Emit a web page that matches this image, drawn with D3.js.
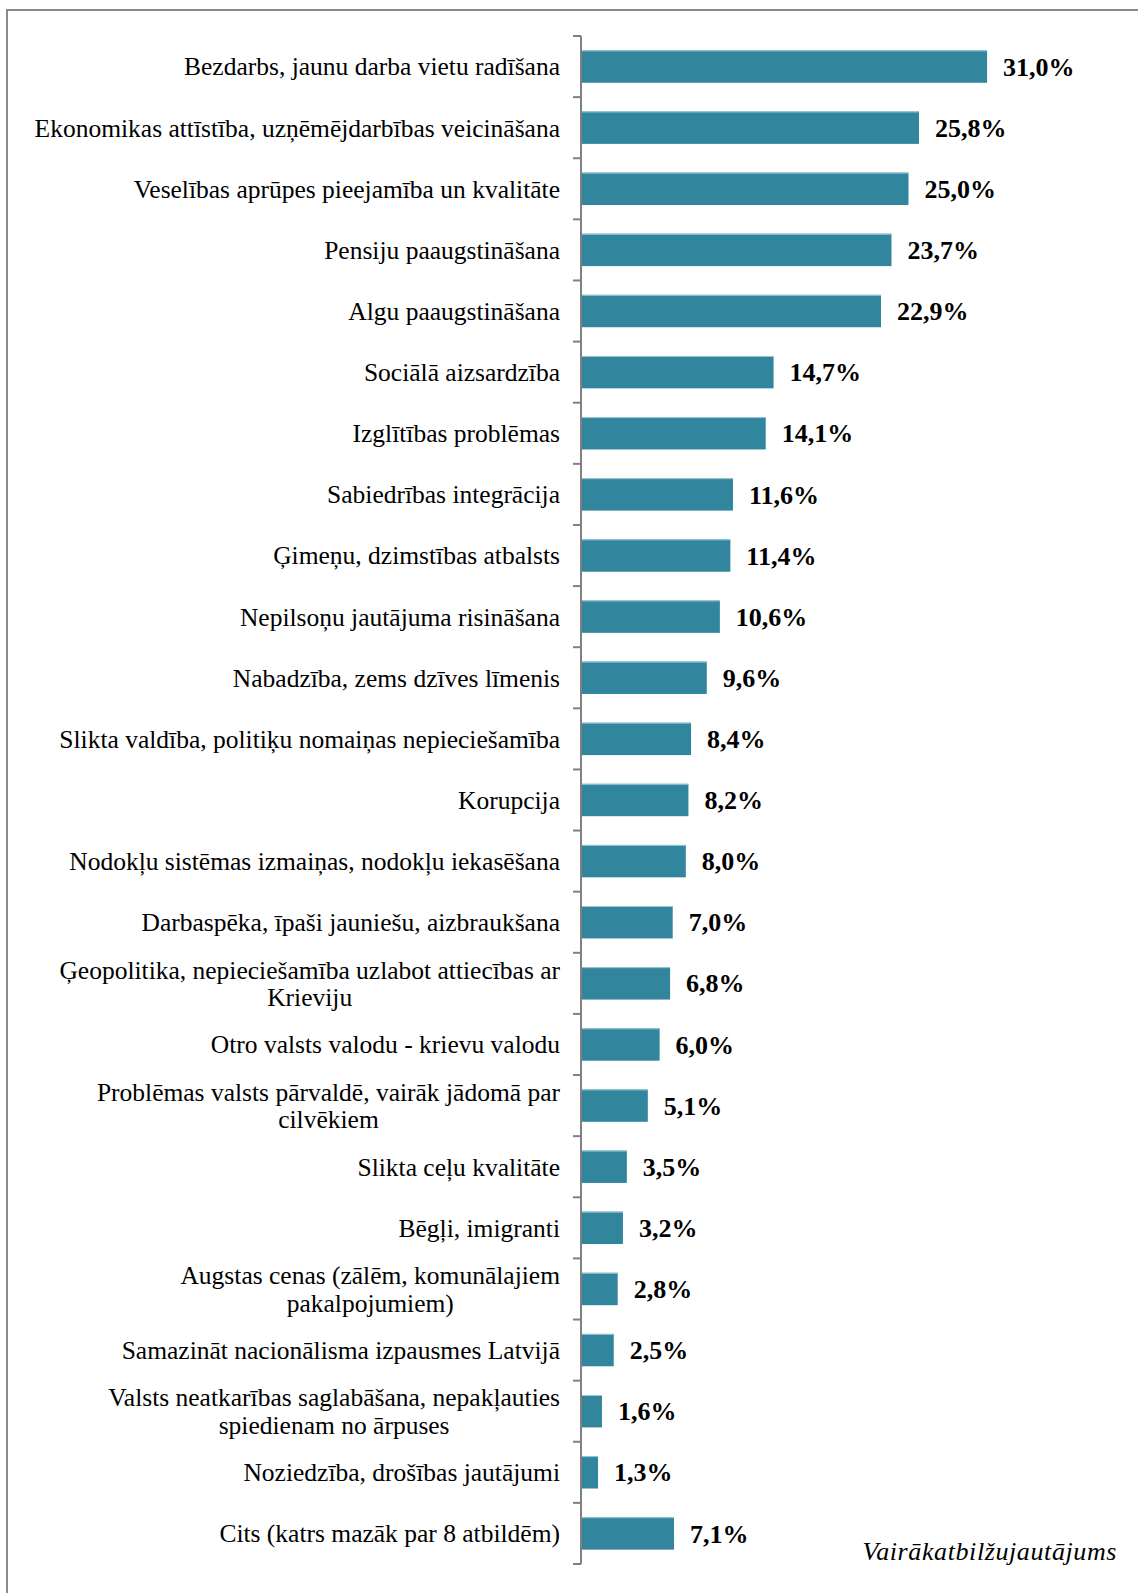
<!DOCTYPE html>
<html>
<head>
<meta charset="utf-8">
<script src="https://cdn.jsdelivr.net/npm/d3@7"></script>
<style>
  body { margin: 0; background: #fff; }
  svg { display: block; }
</style>
</head>
<body>
<script>
var svgWidth = 1138;
var svgHeight = 1593;

// categories (two-line labels split with "|")
var categories = [
  "Bezdarbs, jaunu darba vietu radīšana",
  "Ekonomikas attīstība, uzņēmējdarbības veicināšana",
  "Veselības aprūpes pieejamība un kvalitāte",
  "Pensiju paaugstināšana",
  "Algu paaugstināšana",
  "Sociālā aizsardzība",
  "Izglītības problēmas",
  "Sabiedrības integrācija",
  "Ģimeņu, dzimstības atbalsts",
  "Nepilsoņu jautājuma risināšana",
  "Nabadzība, zems dzīves līmenis",
  "Slikta valdība, politiķu nomaiņas nepieciešamība",
  "Korupcija",
  "Nodokļu sistēmas izmaiņas, nodokļu iekasēšana",
  "Darbaspēka, īpaši jauniešu, aizbraukšana",
  "Ģeopolitika, nepieciešamība uzlabot attiecības ar|Krieviju",
  "Otro valsts valodu - krievu valodu",
  "Problēmas valsts pārvaldē, vairāk jādomā par|cilvēkiem",
  "Slikta ceļu kvalitāte",
  "Bēgļi, imigranti",
  "Augstas cenas (zālēm, komunālajiem|pakalpojumiem)",
  "Samazināt nacionālisma izpausmes Latvijā",
  "Valsts neatkarības saglabāšana, nepakļauties|spiedienam no ārpuses",
  "Noziedzība, drošības jautājumi",
  "Cits (katrs mazāk par 8 atbildēm)"
];
var values = [31.0, 25.8, 25.0, 23.7, 22.9, 14.7, 14.1, 11.6, 11.4, 10.6, 9.6, 8.4, 8.2, 8.0, 7.0, 6.8, 6.0, 5.1, 3.5, 3.2, 2.8, 2.5, 1.6, 1.3, 7.1];
var note = "Vairākatbilžujautājums";

var axisX = 581;
var plotTop = 36, plotBottom = 1564;
var serif = "'Liberation Serif', 'Times New Roman', serif";

var svg = d3.select("body").append("svg")
  .attr("width", svgWidth)
  .attr("height", svgHeight);

// frame (clipped at right and bottom in the original)
svg.append("line").attr("x1", 6).attr("x2", svgWidth).attr("y1", 10).attr("y2", 10)
  .attr("stroke", "#8a8a8a").attr("stroke-width", 2);
svg.append("line").attr("x1", 7).attr("x2", 7).attr("y1", 10).attr("y2", svgHeight)
  .attr("stroke", "#8a8a8a").attr("stroke-width", 2);

var y = d3.scaleBand()
  .domain(d3.range(categories.length))
  .range([plotTop, plotBottom])
  .paddingInner(0.47)
  .paddingOuter(0.235);

var x = d3.scaleLinear()
  .domain([0, 35])
  .range([axisX, axisX + 35 * 13.1]);

var chart = svg.append("g");

chart.selectAll("rect.bar").data(values).enter()
  .append("rect")
  .attr("class", "bar")
  .attr("x", x(0))
  .attr("y", (d, i) => y(i))
  .attr("width", d => x(d) - x(0))
  .attr("height", y.bandwidth())
  .attr("fill", "#31859c");

// light top edge on the bars
chart.selectAll("line.edge").data(values).enter()
  .append("line")
  .attr("x1", x(0)).attr("x2", d => x(d))
  .attr("y1", (d, i) => y(i) + 0.5).attr("y2", (d, i) => y(i) + 0.5)
  .attr("stroke", "#9cc9d6").attr("stroke-width", 1);

// value labels
chart.selectAll("text.val").data(values).enter()
  .append("text")
  .attr("x", d => x(d) + 16)
  .attr("y", (d, i) => y(i) + y.bandwidth() / 2)
  .attr("dy", "0.35em")
  .attr("font-family", serif)
  .attr("font-weight", "bold")
  .attr("font-size", 26)
  .attr("fill", "#000")
  .text(d => d.toFixed(1).replace(".", ",") + "%");

// vertical axis with ticks at band edges
var step = y.step();
var edges = d3.range(categories.length + 1).map(i => plotTop + i * step);
var axis = svg.append("g");
axis.append("line")
  .attr("x1", axisX).attr("x2", axisX)
  .attr("y1", plotTop).attr("y2", plotBottom)
  .attr("stroke", "#808080").attr("stroke-width", 2);
axis.selectAll("line.tick").data(edges).enter()
  .append("line")
  .attr("x1", axisX - 8).attr("x2", axisX)
  .attr("y1", d => d).attr("y2", d => d)
  .attr("stroke", "#808080").attr("stroke-width", 2);

// category labels, multi-line ones centred as a block
var labelRight = 560;
var lineH = 27.5;
categories.forEach(function (c, i) {
  var lines = c.split("|");
  var cy = y(i) + y.bandwidth() / 2;
  var t = svg.append("text")
    .attr("font-family", serif)
    .attr("font-size", 25.5)
    .attr("fill", "#000");
  if (lines.length == 1) {
    t.attr("x", labelRight).attr("y", cy).attr("dy", "0.35em")
      .attr("text-anchor", "end").text(c);
  } else {
    var spans = lines.map(function (l, j) {
      return t.append("tspan")
        .attr("y", cy + (j - (lines.length - 1) / 2) * lineH)
        .attr("dy", "0.35em")
        .text(l);
    });
    var w = d3.max(spans, s => s.node().getComputedTextLength());
    spans.forEach(s => s.attr("x", labelRight - w / 2));
    t.attr("text-anchor", "middle");
  }
});

svg.append("text")
  .attr("x", 1117).attr("y", 1560)
  .attr("text-anchor", "end")
  .attr("font-family", serif)
  .attr("font-style", "italic")
  .attr("font-size", 26)
  .attr("letter-spacing", 0.6)
  .text(note);
</script>
</body>
</html>
